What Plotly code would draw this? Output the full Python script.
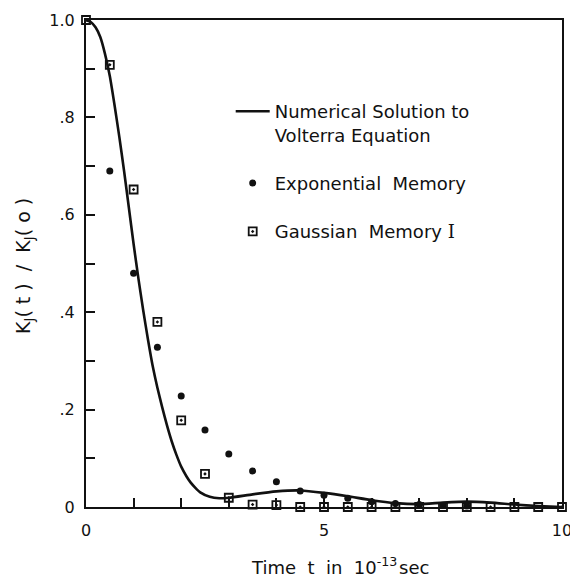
import plotly.graph_objects as go

# Time axis, units of 1e-13 s
t_curve = [0, 0.1, 0.2, 0.3, 0.4, 0.5, 0.6, 0.7, 0.8, 0.9, 1.0, 1.1, 1.2, 1.3, 1.4, 1.5,
           1.6, 1.7, 1.8, 1.9, 2.0, 2.2, 2.4, 2.6, 2.8, 3.0, 3.5, 4.0, 4.5, 5.0, 5.5, 6.0,
           6.5, 7.0, 7.5, 8.0, 8.5, 9.0, 9.5, 10.0]
k_numerical = [1.0, 0.996, 0.985, 0.965, 0.93, 0.885, 0.825, 0.76, 0.69, 0.615, 0.54, 0.47,
               0.405, 0.345, 0.29, 0.245, 0.205, 0.168, 0.135, 0.107, 0.083, 0.05, 0.03,
               0.021, 0.018, 0.019, 0.026, 0.032, 0.034, 0.029, 0.022, 0.014, 0.008, 0.006,
               0.009, 0.011, 0.009, 0.005, 0.002, 0.0]

t_exp = [0.5, 1.0, 1.5, 2.0, 2.5, 3.0, 3.5, 4.0, 4.5, 5.0, 5.5, 6.0, 6.5, 7.0, 7.5, 8.0]
k_exponential = [0.69, 0.48, 0.328, 0.228, 0.158, 0.109, 0.074, 0.052, 0.033, 0.024, 0.018,
                 0.011, 0.007, 0.005, 0.003, 0.002]

t_gauss = [0.0, 0.5, 1.0, 1.5, 2.0, 2.5, 3.0, 3.5, 4.0, 4.5, 5.0, 5.5, 6.0, 6.5, 7.0, 7.5,
           8.0, 8.5, 9.0, 9.5, 10.0]
k_gaussian = [1.0, 0.908, 0.652, 0.38, 0.178, 0.068, 0.019, 0.005, 0.004, 0.0, 0.0, 0.0, 0.0,
              0.0, 0.0, 0.0, 0.0, 0.0, 0.0, 0.0, 0.0]

y_tickvals = [0, 0.1, 0.2, 0.3, 0.4, 0.5, 0.6, 0.7, 0.8, 0.9, 1.0]
y_ticktext = ["0", "", ".2", "", ".4", "", ".6", "", ".8", "", "1.0"]
x_tickvals = [0, 1, 2, 3, 4, 5, 6, 7, 8, 9, 10]
x_ticktext = ["0", "", "", "", "", "5", "", "", "", "", "10"]

FONT = "DejaVu Sans"
INK = "#111111"

fig = go.Figure()

fig.add_trace(go.Scatter(
    x=t_curve, y=k_numerical, mode="lines",
    line=dict(color=INK, width=2.6, shape="spline", smoothing=0.5),
    name="Numerical Solution to<br>Volterra Equation",
    legendgroup="a", cliponaxis=False,
))
fig.add_trace(go.Scatter(
    x=t_exp, y=k_exponential, mode="markers",
    marker=dict(symbol="circle", size=7, color=INK),
    name="Exponential  Memory",
    legendgroup="b", cliponaxis=False,
))
fig.add_trace(go.Scatter(
    x=t_gauss, y=k_gaussian, mode="markers",
    marker=dict(symbol="square-open-dot", size=8, color=INK, line=dict(width=1.8, color=INK)),
    name="Gaussian  Memory <span style=\"font-family:'DejaVu Serif'\">I</span>",
    legendgroup="c", cliponaxis=False,
))

axis_common = dict(
    showline=True, linewidth=2.2, linecolor=INK, mirror=True,
    ticks="inside", ticklen=9, tickwidth=2, tickcolor=INK,
    showgrid=False, zeroline=False,
    tickfont=dict(family=FONT, size=16, color=INK),
    ticklabeloverflow="allow", automargin=False,
)

fig.update_xaxes(range=[0, 10], tickmode="array", tickvals=x_tickvals, ticktext=x_ticktext,
                 ticklabelstandoff=8, **axis_common)
fig.update_yaxes(range=[0, 1.0], tickmode="array", tickvals=y_tickvals, ticktext=y_ticktext,
                 ticklabelstandoff=6, **axis_common)

annotations = [
    dict(text="K<sub>J</sub>( t )  /  K<sub>J</sub>( o )", textangle=-90,
         x=-0.128, y=0.495, xref="paper", yref="paper", xanchor="center", yanchor="middle",
         showarrow=False, font=dict(family=FONT, size=19, color=INK)),
    dict(text="Time  t  in  10<sup>-13</sup>", x=0.6576, y=-0.121, xref="paper", yref="paper",
         xanchor="right", yanchor="middle", showarrow=False,
         font=dict(family=FONT, size=18, color=INK)),
    dict(text="sec", x=0.6534, y=-0.124, xref="paper", yref="paper",
         xanchor="left", yanchor="middle", showarrow=False,
         font=dict(family=FONT, size=18, color=INK)),
]

fig.update_layout(
    width=570, height=577,
    margin=dict(l=86, r=8, t=20, b=70),
    paper_bgcolor="white", plot_bgcolor="white",
    showlegend=True,
    legend=dict(x=0.304, y=0.85, xanchor="left", yanchor="top",
                bgcolor="rgba(0,0,0,0)", borderwidth=0,
                font=dict(family=FONT, size=18, color=INK),
                tracegroupgap=22, valign="top", itemwidth=34),
    annotations=annotations,
)

fig.write_html("out.html")
